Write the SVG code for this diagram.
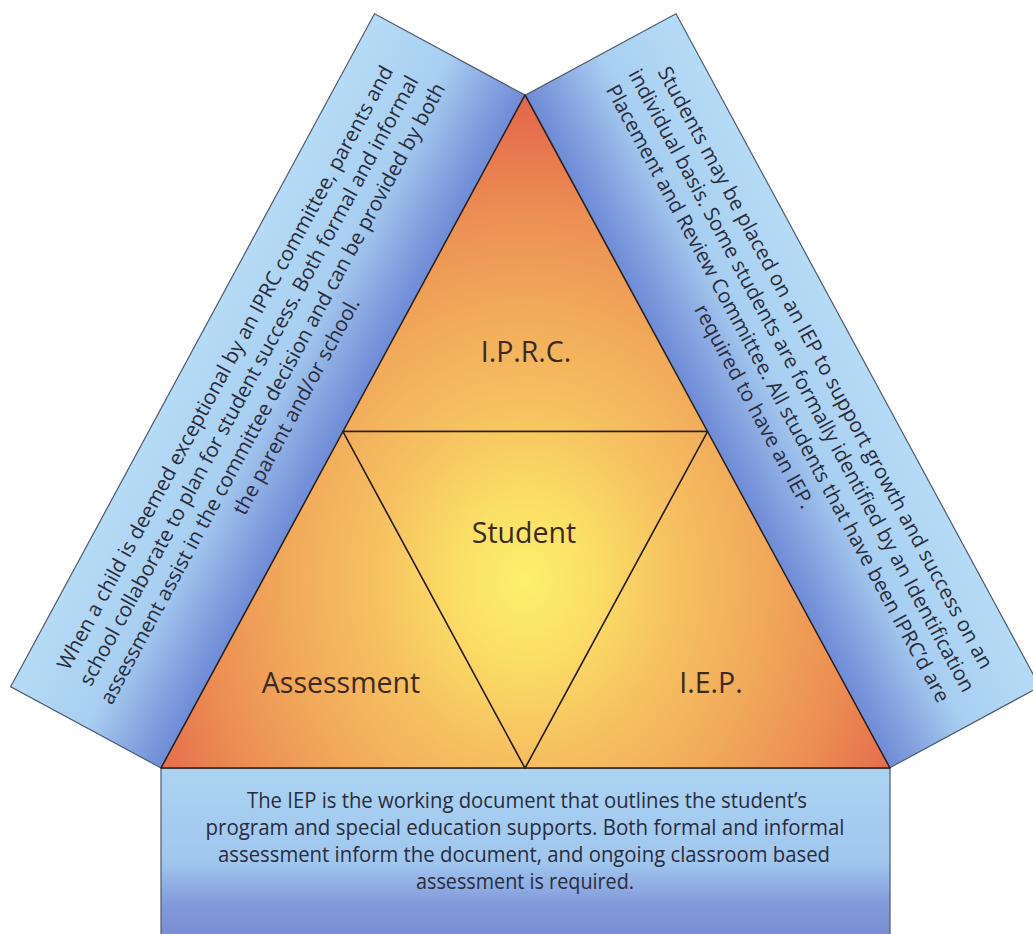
<svg xmlns="http://www.w3.org/2000/svg" width="1033" height="934" viewBox="0 0 1033 934">
  <defs>
    <radialGradient id="triGrad" gradientUnits="userSpaceOnUse" cx="525" cy="580" r="430" gradientTransform="translate(525,580) scale(1,1.15) translate(-525,-580)">
      <stop offset="0" stop-color="#fdf06a"/>
      <stop offset="0.15" stop-color="#fbe066"/>
      <stop offset="0.35" stop-color="#f6c160"/>
      <stop offset="0.55" stop-color="#f1aa5a"/>
      <stop offset="0.75" stop-color="#ec8e53"/>
      <stop offset="1" stop-color="#e2604a"/>
    </radialGradient>
    <linearGradient id="bandGrad" x1="0" y1="0" x2="0" y2="1">
      <stop offset="0" stop-color="#b6dbf6"/>
      <stop offset="0.5" stop-color="#a8cff1"/>
      <stop offset="0.8" stop-color="#86a4e0"/>
      <stop offset="1" stop-color="#6e8bd6"/>
    </linearGradient>
    <linearGradient id="boxGrad" x1="0" y1="0" x2="0" y2="1">
      <stop offset="0" stop-color="#abd4f2"/>
      <stop offset="0.55" stop-color="#a0c6ee"/>
      <stop offset="0.8" stop-color="#8199da"/>
      <stop offset="1" stop-color="#7a8bd2"/>
    </linearGradient>
  </defs>
  <style>
    .band { fill: url(#bandGrad); stroke: #4d5a6e; stroke-width: 1.2; }
    .box { fill: url(#boxGrad); stroke: #4d5a6e; stroke-width: 1.2; }
    .tri { fill: url(#triGrad); stroke: #2a1f1a; stroke-width: 1.5; stroke-linejoin: round; }
    .btxt { font-family: "Open Sans", "Liberation Sans", sans-serif; font-size: 20.5px; fill: #2a2c3c; text-anchor: middle; }
    .ctxt { font-family: "Open Sans", "Liberation Sans", sans-serif; font-size: 22px; fill: #2a2c3c; text-anchor: middle; }
    .lbl { font-family: "Open Sans", "Liberation Sans", sans-serif; font-size: 28.5px; fill: #3b2a1e; text-anchor: middle; }
  </style>

  <g id="node-left-band" transform="translate(343,431.5) rotate(-61.6)">
    <rect class="band" x="-382.5" y="-171" width="765" height="171"/>
    <text class="btxt" x="0" y="-127">When a child is deemed exceptional by an IPRC committee, parents and</text>
    <text class="btxt" x="0" y="-100">school collaborate to plan for student success.  Both formal and informal</text>
    <text class="btxt" x="0" y="-73">assessment assist in the committee decision and can be provided by both</text>
    <text class="btxt" x="0" y="-46">the parent and/or school.</text>
  </g>

  <g id="node-right-band" transform="translate(707.5,431.5) rotate(61.6)">
    <rect class="band" x="-382.5" y="-171" width="765" height="171"/>
    <text class="btxt" x="0" y="-127">Students may be placed on an IEP to support growth and success on an</text>
    <text class="btxt" x="0" y="-100">individual basis.  Some students are formally identified by an Identification</text>
    <text class="btxt" x="0" y="-73">Placement and Review Committee.  All students that have been IPRC’d are</text>
    <text class="btxt" x="0" y="-46">required to have an IEP.</text>
  </g>

  <g id="node-bottom-box">
    <rect class="box" x="161" y="768" width="729" height="172"/>
    <text class="ctxt" x="527" y="808" textLength="560" lengthAdjust="spacingAndGlyphs">The IEP is the working document that outlines the student’s</text>
    <text class="ctxt" x="525" y="835" textLength="639" lengthAdjust="spacingAndGlyphs">program and special education supports.  Both formal and informal</text>
    <text class="ctxt" x="524" y="862" textLength="612" lengthAdjust="spacingAndGlyphs">assessment inform the document, and ongoing classroom based</text>
    <text class="ctxt" x="525" y="889" textLength="218" lengthAdjust="spacingAndGlyphs">assessment is required.</text>
  </g>

  <g id="node-iprc">
    <polygon class="tri" points="525,95 707.5,431.5 343,431.5"/>
    <text class="lbl" x="526" y="362">I.P.R.C.</text>
  </g>
  <g id="node-assessment">
    <polygon class="tri" points="343,431.5 525,768 161,768"/>
    <text class="lbl" x="341" y="693">Assessment</text>
  </g>
  <g id="node-iep">
    <polygon class="tri" points="707.5,431.5 890,768 525,768"/>
    <text class="lbl" x="711" y="693">I.E.P.</text>
  </g>
  <g id="node-student">
    <polygon class="tri" points="343,431.5 707.5,431.5 525,768"/>
    <text class="lbl" x="524" y="543">Student</text>
  </g>

  <g id="connectors"/>
</svg>
